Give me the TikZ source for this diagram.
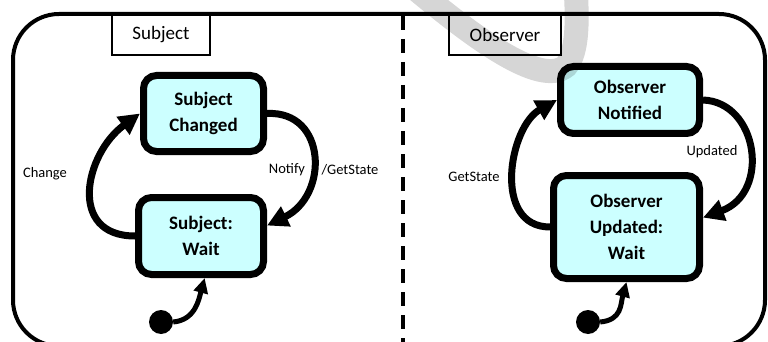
\documentclass[tikz,border=0pt]{standalone}
\usepackage{fontspec}
\setmainfont{Carlito}
\usetikzlibrary{arrows.meta}
\definecolor{statefill}{RGB}{204,255,255}
\tikzset{
  statebox/.style={draw, line width=7pt, rounded corners=13pt, fill=statefill,
    align=center, inner sep=0pt, font=\fontsize{19}{26}\selectfont\bfseries},
  tabbox/.style={draw, line width=1.3pt, fill=white, inner sep=0pt,
    font=\fontsize{19}{22}\selectfont},
  trans/.style={line width=7pt, -{Triangle[length=21pt,width=21pt]}},
  initarrow/.style={line width=5pt, -{Triangle[length=15pt,width=14pt]}},
  initdot/.style={circle, fill=black, inner sep=0pt, minimum size=24pt},
  lbl/.style={font=\fontsize{14.5}{16}\selectfont, fill=white, inner sep=1pt},
}
\begin{document}
\begin{tikzpicture}[x=1pt, y=-1pt]
  \useasboundingbox (0,0) rectangle (768,342);
  \clip (0,0) rectangle (768,342);
  \fill[white] (0,0) rectangle (768,342);

  % outer frame and swimlane divider
  \draw[line width=4pt, rounded corners=46pt] (13,14) rectangle (765,346);
  \draw[line width=4pt, dash pattern=on 14pt off 9pt] (403,16) -- (403,342);

  % lane titles, hanging from the top edge of the frame
  \node[tabbox, minimum width=98pt, minimum height=40pt] (subjtab) at (161,35) {Subject};
  \node[tabbox, minimum width=112pt, minimum height=40pt] (obstab) at (505,35) {Observer};
  \draw[line width=4pt] (70,14) -- (710,14);

  % subject states
  \node[statebox, minimum width=120pt, minimum height=76pt] (sc) at (203.5,113.5) {Subject\\Changed};
  \node[statebox, minimum width=125pt, minimum height=77pt] (sw) at (201,236) {Subject:\\Wait};
  \node[initdot] (d1) at (161,322) {};

  % observer states
  \node[statebox, minimum width=139pt, minimum height=67pt] (on) at (630,100) {Observer\\Notified};
  \node[statebox, minimum width=146pt, minimum height=103pt] (ou) at (626.5,227) {Observer\\Updated:\\Wait};
  \node[initdot] (d2) at (588,322) {};

  % subject transitions
  \draw[trans] (sw.west) .. controls +(-68,0) and +(-55,40) .. (sc.west);
  \draw[trans] (sc.east) .. controls +(60,-3) and +(62,-30) .. (sw.9);
  \draw[initarrow] (d1.east) .. controls +(22,-2) and +(-6,22) .. (sw.-85);

  % observer transitions
  \draw[trans] (ou.west) .. controls +(-58,0) and +(-48,27) .. (on.west);
  \draw[trans] (on.east) .. controls +(55,2) and +(68,-25) .. (ou.7);
  \draw[initarrow] (d2.east) .. controls +(22,-2) and +(-6,22) .. (ou.south);

  % transition labels
  \node[lbl] (lchange) at (45,174) {Change};
  \node[lbl] (lnotify) at (287,170) {Notify};
  \node[lbl] (lget1) at (350,170) {/GetState};
  \node[lbl] (lget2) at (474,177) {GetState};
  \node[lbl, inner sep=0.5pt] (lupd) at (712,152) {Updated};

  % faint swoosh mark across the top
  \draw[line width=24pt, line cap=round, draw opacity=0.16]
    (405,-20) .. controls (470,35) and (540,88) .. (566,66)
    .. controls (578,52) and (578,20) .. (575,-20);
\end{tikzpicture}
\end{document}
